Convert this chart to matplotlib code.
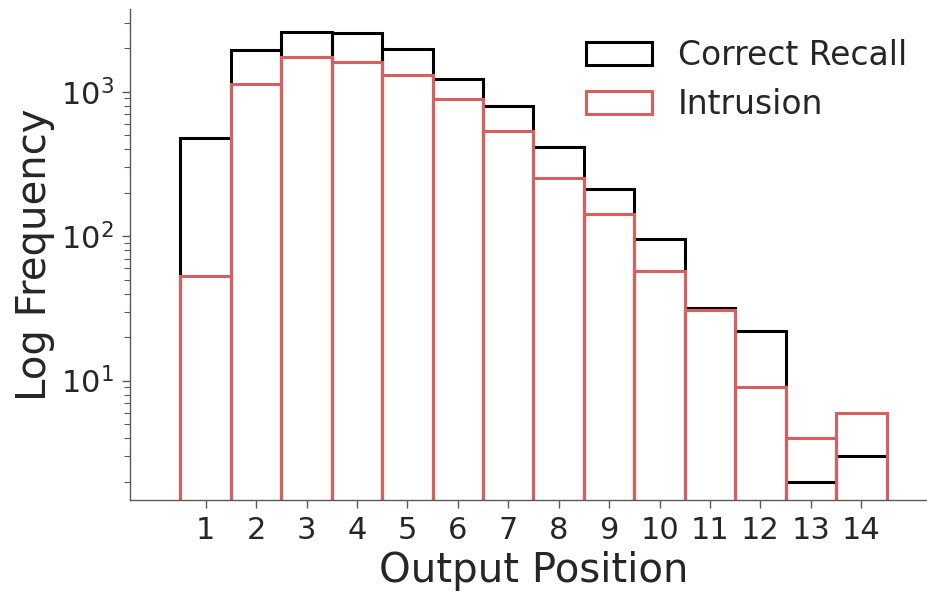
import matplotlib
matplotlib.use("Agg")
import matplotlib.pyplot as plt
import numpy as np

# output positions and counts
positions = list(range(1, 15))
correct_recall = [481, 1945, 2601, 2547, 1995, 1231, 796, 414, 212, 95, 32, 22, 2, 3]
intrusion = [53, 1136, 1746, 1606, 1306, 899, 535, 253, 143, 57, 31, 9, 4, 6]

text_col = "#262626"
red = "#d65f5f"

fig = plt.figure(figsize=(9.27, 5.92), dpi=100)
# axes runs slightly past the right edge of the image, as in the reference
ax = fig.add_axes([0.1402, 0.1554, 0.8706, 0.8294])

# each bin is an unfilled rectangle; red drawn over black
ax.bar(positions, correct_recall, width=1.0, fill=False, edgecolor="black",
       linewidth=2.2, label="Correct Recall", log=True)
ax.bar(positions, intrusion, width=1.0, fill=False, edgecolor=red,
       linewidth=2.2, label="Intrusion", log=True)

ax.set_yscale("log")
ax.set_ylim(1.49, 3750)
ax.set_xlim(-0.5, 15.5)
ax.set_xticks(positions)
ax.set_xticklabels([str(p) for p in positions])

ax.set_xlabel("Output Position", fontsize=29, color=text_col)
ax.set_ylabel("Log Frequency", fontsize=29, color=text_col)
ax.tick_params(axis="both", which="major", labelsize=22, labelcolor=text_col,
               color="0.35", length=6, width=1, pad=5.5)
ax.tick_params(axis="y", which="minor", color="0.35", length=4, width=0.8)

for s in ["top", "right"]:
    ax.spines[s].set_visible(False)
for s in ["left", "bottom"]:
    ax.spines[s].set_color("0.35")
    ax.spines[s].set_linewidth(1.0)

leg = ax.legend(loc="upper right", fontsize=23.7, frameon=False)
for t in leg.get_texts():
    t.set_color(text_col)

plt.savefig("out.png", dpi=100)
plt.close()
